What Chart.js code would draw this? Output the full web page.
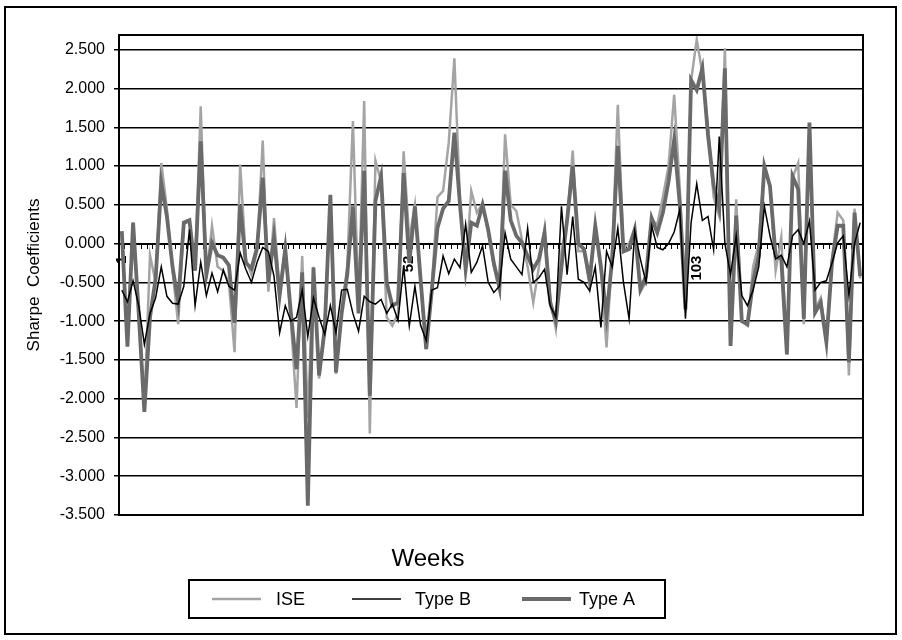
<!DOCTYPE html>
<html>
<head>
<meta charset="utf-8">
<script src="https://cdn.jsdelivr.net/npm/chart.js@4.4.1/dist/chart.umd.min.js"></script>
<style>
  html, body { margin: 0; padding: 0; background: #fff; }
  #wrap { position: relative; width: 902px; height: 640px; }
</style>
</head>
<body>
<div id="wrap"><canvas id="graph" width="902" height="640"></canvas></div>
<script>
// week numbers on the category axis, only some of them get a label
const weeks = Array.from({ length: 132 }, (_, i) => String(i + 1));
const shownWeeks = ['1', '52', '103'];
const yTickValues = [-3.5, -3, -2.5, -2, -1.5, -1, -0.5, 0, 0.5, 1, 1.5, 2, 2.5];

const iseValues = [
    0.15, -1.3, 0.27, -0.85, -2.1, -0.15, -0.5, 1.04, 0.45, -0.35,
    -1.04, 0.25, 0.3, -0.3, 1.77, -0.45, 0.23, -0.3, -0.35, -0.5,
    -1.4, 1.02, -0.2, -0.4, -0.1, 1.33, -0.62, 0.33, -0.6, -0.05,
    -1.0, -2.12, -0.16, -2.25, -0.3, -1.74, -1.0, 0.5, -1.68, -0.85,
    -0.3, 1.58, -0.8, 1.84, -2.45, 1.07, 0.8, -0.95, -1.06, -0.9,
    1.19, 0.05, 0.5, -0.5, -1.36, -0.55, 0.6, 0.68, 1.3, 2.39,
    0.55, -0.35, 0.68, 0.4, 0.52, 0.15, -0.3, -0.6, 1.41, 0.5,
    0.42, 0.05, -0.3, -0.76, -0.3, 0.2, -0.7, -1.1, -0.1, 0.3,
    1.2, -0.1, -0.1, -0.55, 0.2, -0.35, -1.34, -0.1, 1.79, -0.05,
    0.0, 0.2, -0.62, -0.5, 0.3, 0.25, 0.6, 1.0, 1.92, 0.7,
    -0.7, 2.1, 2.63, 2.2, 1.5, 0.6, 0.35, 2.52, -1.3, 0.57,
    -1.0, -1.06, -0.3, 0.0, 1.0, 0.75, -0.35, 0.08, -1.43, 0.85,
    1.04, -1.04, 1.52, -0.85, -0.7, -1.25, -0.2, 0.4, 0.3, -1.7,
    0.45, -0.45
];

const typeBValues = [
    -0.6, -0.75, -0.48, -0.8, -1.3, -0.9, -0.7, -0.3, -0.68, -0.77,
    -0.78, -0.55, 0.18, -0.8, -0.24, -0.67, -0.38, -0.62, -0.34, -0.55,
    -0.6, -0.12, -0.33, -0.5, -0.24, -0.05, -0.1, -0.42, -1.15, -0.8,
    -1.0, -0.95, -0.6, -1.2, -0.7, -0.95, -1.17, -0.8, -1.15, -0.6,
    -0.59, -0.9, -1.13, -0.68, -0.75, -0.78, -0.72, -0.9, -0.78, -0.99,
    -0.29, -1.06, -0.55, -1.05, -1.25, -0.6, -0.57, -0.16, -0.39, -0.2,
    -0.31, 0.25, -0.37, -0.24, -0.03, -0.5, -0.63, -0.55, 0.14, -0.2,
    -0.3, -0.4, 0.2, -0.5, -0.44, -0.33, -0.8, -0.95, 0.48, -0.4,
    0.35, -0.46, -0.5, -0.61, -0.3, -1.08, -0.1, -0.3, 0.2, -0.5,
    -0.97, 0.16, -0.2, -0.5, 0.23, -0.05, -0.08, 0.0, 0.15, 0.44,
    -0.97, 0.27, 0.77, 0.3, 0.35, -0.08, 1.38, 0.0, -0.4, 0.1,
    -0.67, -0.8, -0.6, -0.3, 0.48, 0.1, -0.2, -0.15, -0.3, 0.1,
    0.18, 0.0, 0.29, -0.6, -0.5, -0.48, -0.25, 0.01, 0.1, -0.67,
    0.0, 0.27
];

const typeAValues = [
    0.16, -1.33, 0.27, -0.9, -2.17, -0.95, -0.45, 0.78, 0.35, -0.3,
    -0.75, 0.27, 0.3, -0.35, 1.32, -0.4, 0.01, -0.15, -0.18, -0.28,
    -1.02, 0.5, -0.25, -0.32, -0.05, 0.85, -0.5, 0.08, -0.67, -0.07,
    -0.9, -1.62, -0.37, -3.38, -0.31, -1.7, -1.1, 0.63, -1.66, -0.9,
    -0.4, 0.48, -0.9, 0.94, -1.96, 0.55, 0.87, -0.5, -0.8, -0.76,
    0.91, -0.25, 0.48, -0.45, -1.36, -0.6, 0.2, 0.45, 0.55, 1.43,
    0.5, -0.33, 0.27, 0.23, 0.5, 0.18, -0.25, -0.57, 0.94, 0.3,
    0.1, 0.01, -0.16, -0.33, -0.2, 0.14, -0.76, -1.0, -0.3, 0.3,
    1.0, 0.0, -0.07, -0.46, 0.23, -0.3, -0.93, -0.2, 1.26, -0.1,
    -0.07, 0.18, -0.59, -0.42, 0.33, 0.14, 0.4, 0.8, 1.34, 0.5,
    -0.85, 2.11, 1.98, 2.26, 1.4, 0.75, 0.45, 2.26, -1.32, 0.36,
    -1.0, -1.04, -0.5, -0.16, 1.0, 0.74, -0.16, -0.2, -1.43, 0.87,
    0.7, -0.97, 1.56, -0.89, -0.76, -1.27, -0.25, 0.23, 0.23, -1.53,
    0.4, -0.42
];

const seriesNames = ['ISE', 'Type B', 'Type A'];
const seriesColors = ['#a4a4a4', '#000000', '#6a6a6a'];
const seriesWidths = [2.5, 1.5, 3.8];

const fontFamily = '"Liberation Sans", Arial, sans-serif';

// frame, "Weeks" caption and the boxed legend, drawn like the Excel original
const decorations = {
    id: 'decorations',
    afterDraw(chart) {
        const ctx = chart.ctx;
        const area = chart.chartArea;
        ctx.save();
        ctx.strokeStyle = '#000';
        ctx.lineWidth = 2;
        ctx.strokeRect(area.left, area.top, area.right - area.left, area.bottom - area.top);
        ctx.strokeRect(5, 7, 891, 627);

        ctx.fillStyle = '#000';
        ctx.font = '24px ' + fontFamily;
        ctx.textAlign = 'center';
        ctx.textBaseline = 'middle';
        ctx.fillText('Weeks', 428, 559);

        ctx.strokeRect(189, 580, 476, 38);
        const lineStarts = [212, 352, 522];
        const textStarts = [276, 415, 579];
        ctx.font = '18px ' + fontFamily;
        ctx.textAlign = 'left';
        for (let i = 0; i < seriesNames.length; i++) {
            ctx.strokeStyle = seriesColors[i];
            ctx.lineWidth = seriesWidths[i];
            ctx.beginPath();
            ctx.moveTo(lineStarts[i], 599);
            ctx.lineTo(lineStarts[i] + 49, 599);
            ctx.stroke();
            ctx.fillText(seriesNames[i], textStarts[i], 600);
        }
        ctx.restore();
    }
};

function makeDataset(index, values, order) {
    return {
        label: seriesNames[index],
        data: values,
        borderColor: seriesColors[index],
        backgroundColor: seriesColors[index],
        borderWidth: seriesWidths[index],
        pointRadius: 0,
        tension: 0,
        order: order
    };
}

new Chart(document.getElementById('graph'), {
    type: 'line',
    data: {
        labels: weeks,
        datasets: [
            makeDataset(0, iseValues, 2),
            makeDataset(1, typeBValues, 0),
            makeDataset(2, typeAValues, 1)
        ]
    },
    options: {
        responsive: false,
        animation: false,
        events: [],
        layout: { padding: { left: 20, top: 35, right: 39, bottom: 125 } },
        plugins: {
            legend: { display: false },
            tooltip: { enabled: false }
        },
        scales: {
            x: {
                position: { y: 0 },
                offset: true,
                afterFit: (scale) => { scale.height = 0; },
                grid: {
                    drawOnChartArea: false,
                    offset: true,
                    tickLength: 4,
                    color: '#000',
                    lineWidth: 1
                },
                border: { display: true, color: '#000', width: 2 },
                ticks: {
                    autoSkip: false,
                    minRotation: 90,
                    maxRotation: 90,
                    padding: 8,
                    color: '#000',
                    font: { family: fontFamily, size: 15, weight: 'bold' },
                    callback: function (value) {
                        const label = this.getLabelForValue(value);
                        return shownWeeks.includes(label) ? label : '';
                    }
                }
            },
            y: {
                min: -3.5,
                max: 2.69,
                afterFit: (scale) => { scale.width = 99; },
                afterBuildTicks: (scale) => {
                    scale.ticks = yTickValues.map(v => ({ value: v }));
                },
                grid: { color: '#000', lineWidth: 1.5, tickLength: 5 },
                border: { display: true, color: '#000', width: 2 },
                ticks: {
                    stepSize: 0.5,
                    padding: 9,
                    color: '#000',
                    font: { family: fontFamily, size: 16 },
                    callback: (value) => value.toFixed(3)
                },
                title: {
                    display: true,
                    text: 'Sharpe  Coefficients',
                    color: '#000',
                    font: { family: fontFamily, size: 17 }
                }
            }
        }
    },
    plugins: [decorations]
});
</script>
</body>
</html>
